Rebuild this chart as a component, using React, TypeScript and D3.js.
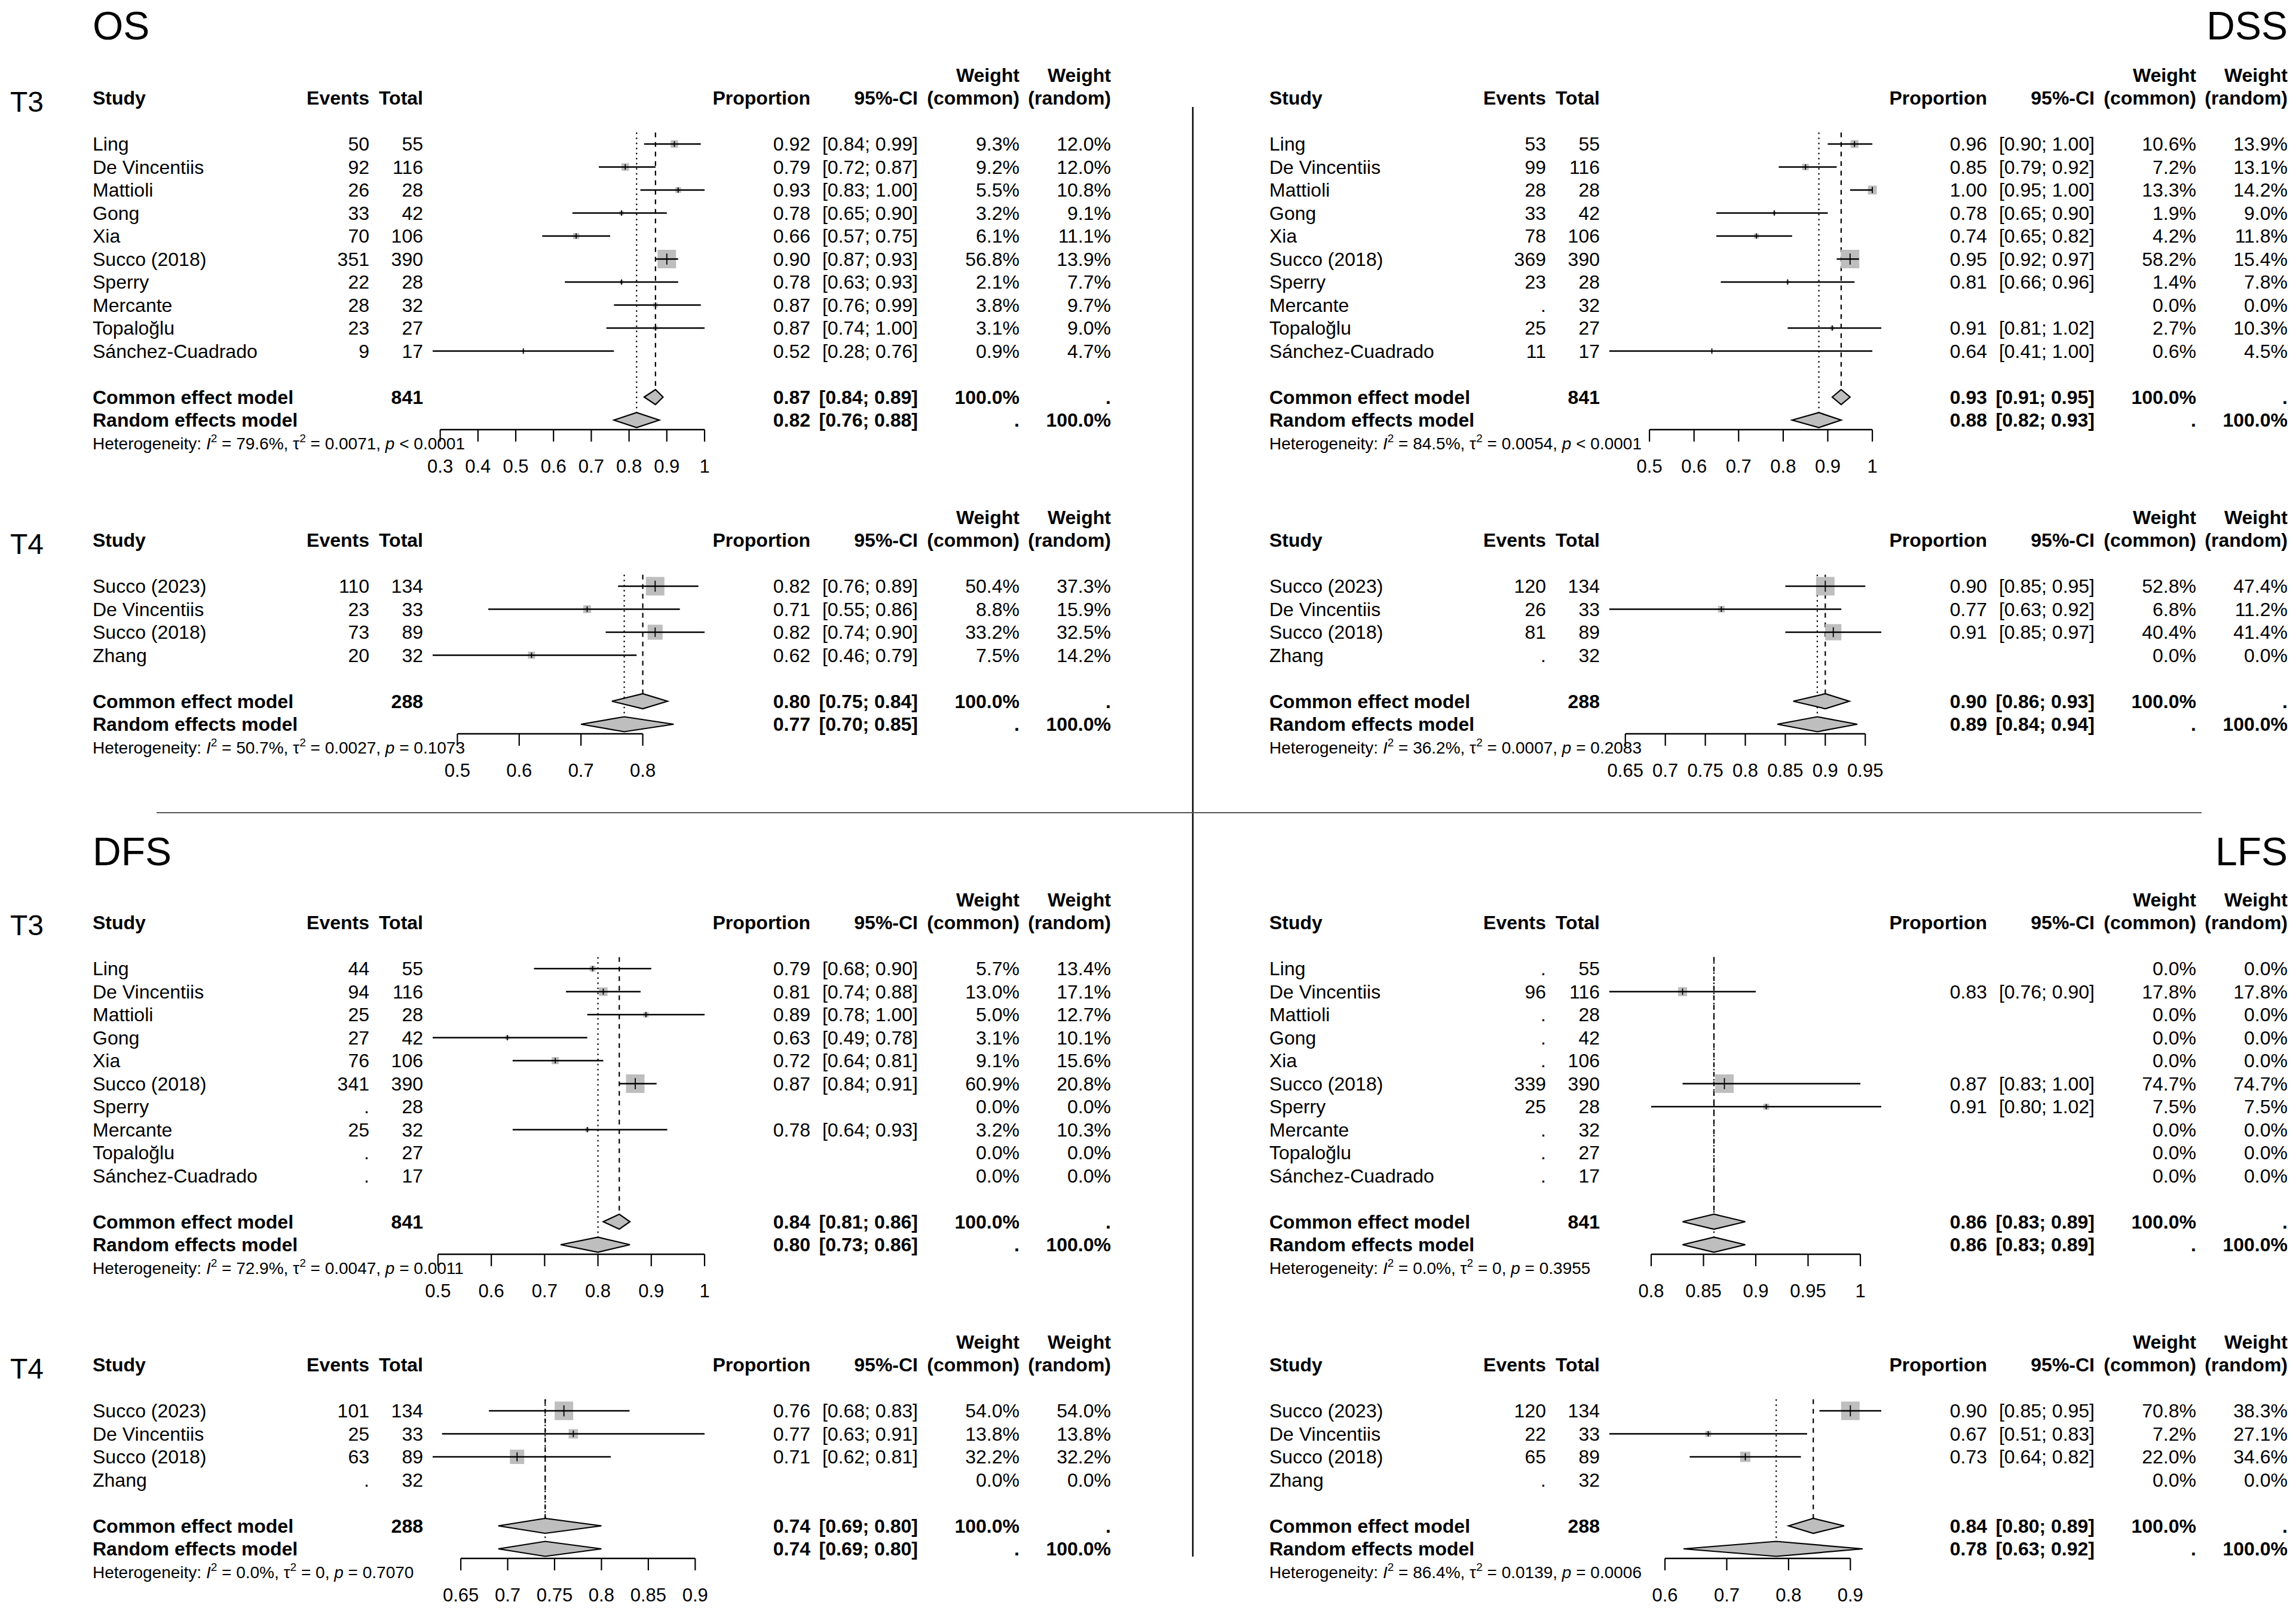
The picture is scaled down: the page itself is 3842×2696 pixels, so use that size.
import React from "react";
import * as d3 from "d3";

const W = 3842;
const H = 2696;

// ---------- study lists ----------
const studiesT3 = ["Ling", "De Vincentiis", "Mattioli", "Gong", "Xia", "Succo (2018)", "Sperry", "Mercante", "Topaloğlu", "Sánchez-Cuadrado"];
const studiesT4 = ["Succo (2023)", "De Vincentiis", "Succo (2018)", "Zhang"];
const totalsT3 = [55, 116, 28, 42, 106, 390, 28, 32, 27, 17];
const totalsT4 = [134, 33, 89, 32];

// ---------- OS ----------
const osT3Events = [50, 92, 26, 33, 70, 351, 22, 28, 23, 9];
const osT3Prop = [0.92, 0.79, 0.93, 0.78, 0.66, 0.90, 0.78, 0.87, 0.87, 0.52];
const osT3Lo = [0.84, 0.72, 0.83, 0.65, 0.57, 0.87, 0.63, 0.76, 0.74, 0.28];
const osT3Hi = [0.99, 0.87, 1.00, 0.90, 0.75, 0.93, 0.93, 0.99, 1.00, 0.76];
const osT3WCommon = [9.3, 9.2, 5.5, 3.2, 6.1, 56.8, 2.1, 3.8, 3.1, 0.9];
const osT3WRandom = [12.0, 12.0, 10.8, 9.1, 11.1, 13.9, 7.7, 9.7, 9.0, 4.7];
const osT3Common = [0.87, 0.84, 0.89];
const osT3Random = [0.82, 0.76, 0.88];
const osT3Het = ["79.6%", "0.0071", "< 0.0001"];
const osT3Ticks = [0.3, 0.4, 0.5, 0.6, 0.7, 0.8, 0.9, 1];

const osT4Events = [110, 23, 73, 20];
const osT4Prop = [0.82, 0.71, 0.82, 0.62];
const osT4Lo = [0.76, 0.55, 0.74, 0.46];
const osT4Hi = [0.89, 0.86, 0.90, 0.79];
const osT4WCommon = [50.4, 8.8, 33.2, 7.5];
const osT4WRandom = [37.3, 15.9, 32.5, 14.2];
const osT4Common = [0.80, 0.75, 0.84];
const osT4Random = [0.77, 0.70, 0.85];
const osT4Het = ["50.7%", "0.0027", "= 0.1073"];
const osT4Ticks = [0.5, 0.6, 0.7, 0.8];

// ---------- DSS ----------
const dssT3Events = [53, 99, 28, 33, 78, 369, 23, null, 25, 11];
const dssT3Prop = [0.96, 0.85, 1.00, 0.78, 0.74, 0.95, 0.81, null, 0.91, 0.64];
const dssT3Lo = [0.90, 0.79, 0.95, 0.65, 0.65, 0.92, 0.66, null, 0.81, 0.41];
const dssT3Hi = [1.00, 0.92, 1.00, 0.90, 0.82, 0.97, 0.96, null, 1.02, 1.00];
const dssT3WCommon = [10.6, 7.2, 13.3, 1.9, 4.2, 58.2, 1.4, 0.0, 2.7, 0.6];
const dssT3WRandom = [13.9, 13.1, 14.2, 9.0, 11.8, 15.4, 7.8, 0.0, 10.3, 4.5];
const dssT3Common = [0.93, 0.91, 0.95];
const dssT3Random = [0.88, 0.82, 0.93];
const dssT3Het = ["84.5%", "0.0054", "< 0.0001"];
const dssT3Ticks = [0.5, 0.6, 0.7, 0.8, 0.9, 1];

const dssT4Events = [120, 26, 81, null];
const dssT4Prop = [0.90, 0.77, 0.91, null];
const dssT4Lo = [0.85, 0.63, 0.85, null];
const dssT4Hi = [0.95, 0.92, 0.97, null];
const dssT4WCommon = [52.8, 6.8, 40.4, 0.0];
const dssT4WRandom = [47.4, 11.2, 41.4, 0.0];
const dssT4Common = [0.90, 0.86, 0.93];
const dssT4Random = [0.89, 0.84, 0.94];
const dssT4Het = ["36.2%", "0.0007", "= 0.2083"];
const dssT4Ticks = [0.65, 0.7, 0.75, 0.8, 0.85, 0.9, 0.95];

// ---------- DFS ----------
const dfsT3Events = [44, 94, 25, 27, 76, 341, null, 25, null, null];
const dfsT3Prop = [0.79, 0.81, 0.89, 0.63, 0.72, 0.87, null, 0.78, null, null];
const dfsT3Lo = [0.68, 0.74, 0.78, 0.49, 0.64, 0.84, null, 0.64, null, null];
const dfsT3Hi = [0.90, 0.88, 1.00, 0.78, 0.81, 0.91, null, 0.93, null, null];
const dfsT3WCommon = [5.7, 13.0, 5.0, 3.1, 9.1, 60.9, 0.0, 3.2, 0.0, 0.0];
const dfsT3WRandom = [13.4, 17.1, 12.7, 10.1, 15.6, 20.8, 0.0, 10.3, 0.0, 0.0];
const dfsT3Common = [0.84, 0.81, 0.86];
const dfsT3Random = [0.80, 0.73, 0.86];
const dfsT3Het = ["72.9%", "0.0047", "= 0.0011"];
const dfsT3Ticks = [0.5, 0.6, 0.7, 0.8, 0.9, 1];

const dfsT4Events = [101, 25, 63, null];
const dfsT4Prop = [0.76, 0.77, 0.71, null];
const dfsT4Lo = [0.68, 0.63, 0.62, null];
const dfsT4Hi = [0.83, 0.91, 0.81, null];
const dfsT4WCommon = [54.0, 13.8, 32.2, 0.0];
const dfsT4WRandom = [54.0, 13.8, 32.2, 0.0];
const dfsT4Common = [0.74, 0.69, 0.80];
const dfsT4Random = [0.74, 0.69, 0.80];
const dfsT4Het = ["0.0%", "0", "= 0.7070"];
const dfsT4Ticks = [0.65, 0.7, 0.75, 0.8, 0.85, 0.9];

// ---------- LFS ----------
const lfsT3Events = [null, 96, null, null, null, 339, 25, null, null, null];
const lfsT3Prop = [null, 0.83, null, null, null, 0.87, 0.91, null, null, null];
const lfsT3Lo = [null, 0.76, null, null, null, 0.83, 0.80, null, null, null];
const lfsT3Hi = [null, 0.90, null, null, null, 1.00, 1.02, null, null, null];
const lfsT3WCommon = [0.0, 17.8, 0.0, 0.0, 0.0, 74.7, 7.5, 0.0, 0.0, 0.0];
const lfsT3WRandom = [0.0, 17.8, 0.0, 0.0, 0.0, 74.7, 7.5, 0.0, 0.0, 0.0];
const lfsT3Common = [0.86, 0.83, 0.89];
const lfsT3Random = [0.86, 0.83, 0.89];
const lfsT3Het = ["0.0%", "0", "= 0.3955"];
const lfsT3Ticks = [0.8, 0.85, 0.9, 0.95, 1];

const lfsT4Events = [120, 22, 65, null];
const lfsT4Prop = [0.90, 0.67, 0.73, null];
const lfsT4Lo = [0.85, 0.51, 0.64, null];
const lfsT4Hi = [0.95, 0.83, 0.82, null];
const lfsT4WCommon = [70.8, 7.2, 22.0, 0.0];
const lfsT4WRandom = [38.3, 27.1, 34.6, 0.0];
const lfsT4Common = [0.84, 0.80, 0.89];
const lfsT4Random = [0.78, 0.63, 0.92];
const lfsT4Het = ["86.4%", "0.0139", "= 0.0006"];
const lfsT4Ticks = [0.6, 0.7, 0.8, 0.9];

const totalT3 = 841;
const totalT4 = 288;

type Block = {
  studies: string[]; events: (number | null)[]; totals: number[];
  prop: (number | null)[]; lo: (number | null)[]; hi: (number | null)[];
  wc: number[]; wr: number[]; common: number[]; random: number[];
  total: number; het: string[]; ticks: number[];
};

const mk = (studies, events, totals, prop, lo, hi, wc, wr, common, random, total, het, ticks): Block =>
  ({ studies, events, totals, prop, lo, hi, wc, wr, common, random, total, het, ticks });

const OS_T3 = mk(studiesT3, osT3Events, totalsT3, osT3Prop, osT3Lo, osT3Hi, osT3WCommon, osT3WRandom, osT3Common, osT3Random, totalT3, osT3Het, osT3Ticks);
const OS_T4 = mk(studiesT4, osT4Events, totalsT4, osT4Prop, osT4Lo, osT4Hi, osT4WCommon, osT4WRandom, osT4Common, osT4Random, totalT4, osT4Het, osT4Ticks);
const DSS_T3 = mk(studiesT3, dssT3Events, totalsT3, dssT3Prop, dssT3Lo, dssT3Hi, dssT3WCommon, dssT3WRandom, dssT3Common, dssT3Random, totalT3, dssT3Het, dssT3Ticks);
const DSS_T4 = mk(studiesT4, dssT4Events, totalsT4, dssT4Prop, dssT4Lo, dssT4Hi, dssT4WCommon, dssT4WRandom, dssT4Common, dssT4Random, totalT4, dssT4Het, dssT4Ticks);
const DFS_T3 = mk(studiesT3, dfsT3Events, totalsT3, dfsT3Prop, dfsT3Lo, dfsT3Hi, dfsT3WCommon, dfsT3WRandom, dfsT3Common, dfsT3Random, totalT3, dfsT3Het, dfsT3Ticks);
const DFS_T4 = mk(studiesT4, dfsT4Events, totalsT4, dfsT4Prop, dfsT4Lo, dfsT4Hi, dfsT4WCommon, dfsT4WRandom, dfsT4Common, dfsT4Random, totalT4, dfsT4Het, dfsT4Ticks);
const LFS_T3 = mk(studiesT3, lfsT3Events, totalsT3, lfsT3Prop, lfsT3Lo, lfsT3Hi, lfsT3WCommon, lfsT3WRandom, lfsT3Common, lfsT3Random, totalT3, lfsT3Het, lfsT3Ticks);
const LFS_T4 = mk(studiesT4, lfsT4Events, totalsT4, lfsT4Prop, lfsT4Lo, lfsT4Hi, lfsT4WCommon, lfsT4WRandom, lfsT4Common, lfsT4Random, totalT4, lfsT4Het, lfsT4Ticks);

const FONT = "'Liberation Sans', Arial, Helvetica, sans-serif";
const FS = 32;
const R = 38.5;
const SQ = "#bebebe";

const f2 = (v: number) => v.toFixed(2);
const ci = (a: number, b: number) => `[${f2(a)}; ${f2(b)}]`;
const pct = (v: number) => v.toFixed(1) + "%";

function ForestBlock({ d, x0, base }: { d: Block; x0: number; base: number }) {
  const n = d.studies.length;
  const los = d.lo.filter((v) => v != null) as number[];
  const his = d.hi.filter((v) => v != null) as number[];
  const x = d3.scaleLinear().domain([d3.min(los)!, d3.max(his)!]).range([x0 + 569, x0 + 1024]);
  const rowY = (i: number) => base + (2 + i) * R;
  const comY = base + (n + 3) * R;
  const ranY = base + (n + 4) * R;
  const hetY = base + (n + 5) * R;
  const axY = ranY + 16;
  const tlY = hetY + R;
  const topY = rowY(0) - R / 2;
  const maxW = d3.max(d.wc)!;
  const side = d3.scaleSqrt().domain([0, maxW]).range([0, 31]);
  const col = {
    events: x0 + 463, total: x0 + 553, prop: x0 + 1201, ci: x0 + 1381, wc: x0 + 1551, wr: x0 + 1704,
  };
  const dy = FS * 0.358;
  const T = (props: any) => (
    <text fontFamily={FONT} fontSize={FS} fill="#000" {...props} />
  );
  const diamond = (v: number[], y: number) => {
    const h = 12.5;
    return `M${x(v[1])},${y} L${x(v[0])},${y - h} L${x(v[2])},${y} L${x(v[0])},${y + h} Z`;
  };
  return (
    <g>
      {/* headers */}
      <T x={x0} y={base + dy} fontWeight="bold">Study</T>
      <T x={col.events} y={base + dy} fontWeight="bold" textAnchor="end">Events</T>
      <T x={col.total} y={base + dy} fontWeight="bold" textAnchor="end">Total</T>
      <T x={col.prop} y={base + dy} fontWeight="bold" textAnchor="end">Proportion</T>
      <T x={col.ci} y={base + dy} fontWeight="bold" textAnchor="end">95%-CI</T>
      <T x={col.wc} y={base - R + dy} fontWeight="bold" textAnchor="end">Weight</T>
      <T x={col.wc} y={base + dy} fontWeight="bold" textAnchor="end">(common)</T>
      <T x={col.wr} y={base - R + dy} fontWeight="bold" textAnchor="end">Weight</T>
      <T x={col.wr} y={base + dy} fontWeight="bold" textAnchor="end">(random)</T>

      {/* reference lines */}
      <line x1={x(d.common[0])} x2={x(d.common[0])} y1={topY} y2={comY} stroke="#000" strokeWidth={2.2} strokeDasharray="8,8" />
      <line x1={x(d.random[0])} x2={x(d.random[0])} y1={topY} y2={ranY} stroke="#000" strokeWidth={2.2} strokeDasharray="2.5,6" />

      {/* studies */}
      {d.studies.map((s, i) => {
        const y = rowY(i);
        const p = d.prop[i];
        const has = p != null;
        const sd = has ? side(d.wc[i]) : 0;
        const tk = Math.max(9, sd * 0.5 + 3);
        return (
          <g key={i}>
            <T x={x0} y={y + dy}>{s}</T>
            <T x={col.events} y={y + dy} textAnchor="end">{d.events[i] == null ? "." : String(d.events[i])}</T>
            <T x={col.total} y={y + dy} textAnchor="end">{String(d.totals[i])}</T>
            {has && (
              <>
                <rect x={x(p!) - sd / 2} y={y - sd / 2} width={sd} height={sd} fill={SQ} />
                <line x1={x(d.lo[i]!)} x2={x(d.hi[i]!)} y1={y} y2={y} stroke="#000" strokeWidth={2.4} />
                <line x1={x(p!)} x2={x(p!)} y1={y - tk / 2} y2={y + tk / 2} stroke="#000" strokeWidth={1.8} />
                <T x={col.prop} y={y + dy} textAnchor="end">{f2(p!)}</T>
                <T x={col.ci} y={y + dy} textAnchor="end">{ci(d.lo[i]!, d.hi[i]!)}</T>
              </>
            )}
            <T x={col.wc} y={y + dy} textAnchor="end">{pct(d.wc[i])}</T>
            <T x={col.wr} y={y + dy} textAnchor="end">{pct(d.wr[i])}</T>
          </g>
        );
      })}

      {/* model rows */}
      <T x={x0} y={comY + dy} fontWeight="bold">Common effect model</T>
      <T x={col.total} y={comY + dy} fontWeight="bold" textAnchor="end">{String(d.total)}</T>
      <path d={diamond(d.common, comY)} fill={SQ} stroke="#000" strokeWidth={2.2} />
      <T x={col.prop} y={comY + dy} fontWeight="bold" textAnchor="end">{f2(d.common[0])}</T>
      <T x={col.ci} y={comY + dy} fontWeight="bold" textAnchor="end">{ci(d.common[1], d.common[2])}</T>
      <T x={col.wc} y={comY + dy} fontWeight="bold" textAnchor="end">100.0%</T>
      <T x={col.wr} y={comY + dy} fontWeight="bold" textAnchor="end">.</T>

      <T x={x0} y={ranY + dy} fontWeight="bold">Random effects model</T>
      <path d={diamond(d.random, ranY)} fill={SQ} stroke="#000" strokeWidth={2.2} />
      <T x={col.prop} y={ranY + dy} fontWeight="bold" textAnchor="end">{f2(d.random[0])}</T>
      <T x={col.ci} y={ranY + dy} fontWeight="bold" textAnchor="end">{ci(d.random[1], d.random[2])}</T>
      <T x={col.wc} y={ranY + dy} fontWeight="bold" textAnchor="end">.</T>
      <T x={col.wr} y={ranY + dy} fontWeight="bold" textAnchor="end">100.0%</T>

      {/* heterogeneity */}
      <text x={x0} y={hetY + 10} fontFamily={FONT} fontSize={28} fill="#000">
        Heterogeneity: <tspan fontStyle="italic">I</tspan>
        <tspan dy={-12} fontSize={19}>2</tspan>
        <tspan dy={12}>{` = ${d.het[0]}, τ`}</tspan>
        <tspan dy={-12} fontSize={19}>2</tspan>
        <tspan dy={12}>{` = ${d.het[1]}, `}</tspan>
        <tspan fontStyle="italic">p</tspan>
        <tspan>{` ${d.het[2]}`}</tspan>
      </text>

      {/* axis */}
      <line x1={x(d.ticks[0])} x2={x(d.ticks[d.ticks.length - 1])} y1={axY} y2={axY} stroke="#000" strokeWidth={2.4} />
      {d.ticks.map((t, i) => (
        <g key={i}>
          <line x1={x(t)} x2={x(t)} y1={axY} y2={axY + 20} stroke="#000" strokeWidth={2.2} />
          <text x={x(t)} y={tlY + 11} fontFamily={FONT} fontSize={31} textAnchor="middle" fill="#000">{String(t)}</text>
        </g>
      ))}
    </g>
  );
}

const LEFT_X = 155;
const RIGHT_X = 2124;
const TOP_BASE = 164;
const BOT_BASE = 1544;
const T4_OFF = 740;

export default function App() {
  const titles = [
    { t: "OS", x: LEFT_X, anchor: "start", y: TOP_BASE - 98 },
    { t: "DSS", x: RIGHT_X + 1704, anchor: "end", y: TOP_BASE - 98 },
    { t: "DFS", x: LEFT_X, anchor: "start", y: BOT_BASE - 96 },
    { t: "LFS", x: RIGHT_X + 1704, anchor: "end", y: BOT_BASE - 96 },
  ];
  const tLabels = [
    { t: "T3", y: TOP_BASE + 23 },
    { t: "T4", y: TOP_BASE + T4_OFF + 23 },
    { t: "T3", y: BOT_BASE + 21 },
    { t: "T4", y: BOT_BASE + T4_OFF + 23 },
  ];
  return (
    <svg width={W} height={H} style={{ position: "absolute", left: 0, top: 0, background: "#fff" }}>
      <rect x={0} y={0} width={W} height={H} fill="#fff" />
      {titles.map((t, i) => (
        <text key={i} x={t.x} y={t.y} fontFamily={FONT} fontSize={66} textAnchor={t.anchor as any} fill="#000">{t.t}</text>
      ))}
      {tLabels.map((t, i) => (
        <text key={i} x={17} y={t.y} fontFamily={FONT} fontSize={48} fill="#000">{t.t}</text>
      ))}
      <line x1={1996} x2={1996} y1={179} y2={2605} stroke="#000" strokeWidth={2.5} />
      <line x1={262} x2={3684} y1={1360} y2={1360} stroke="#555" strokeWidth={2} />
      <ForestBlock d={OS_T3} x0={LEFT_X} base={TOP_BASE} />
      <ForestBlock d={OS_T4} x0={LEFT_X} base={TOP_BASE + T4_OFF} />
      <ForestBlock d={DSS_T3} x0={RIGHT_X} base={TOP_BASE} />
      <ForestBlock d={DSS_T4} x0={RIGHT_X} base={TOP_BASE + T4_OFF} />
      <ForestBlock d={DFS_T3} x0={LEFT_X} base={BOT_BASE} />
      <ForestBlock d={DFS_T4} x0={LEFT_X} base={BOT_BASE + T4_OFF} />
      <ForestBlock d={LFS_T3} x0={RIGHT_X} base={BOT_BASE} />
      <ForestBlock d={LFS_T4} x0={RIGHT_X} base={BOT_BASE + T4_OFF} />
    </svg>
  );
}
